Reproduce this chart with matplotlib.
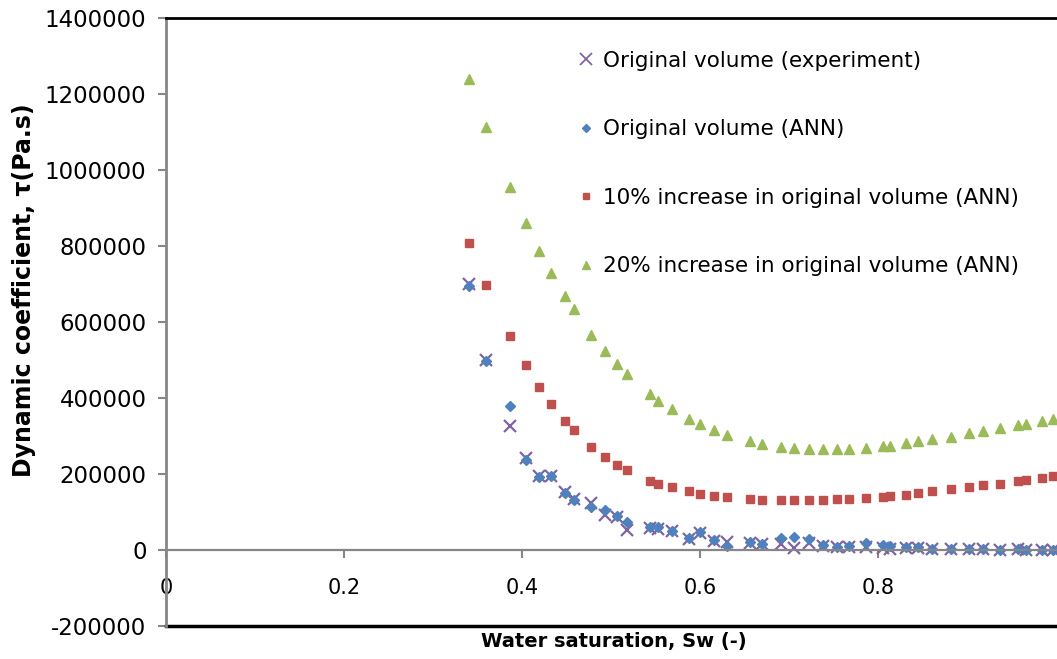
import matplotlib
matplotlib.use("Agg")
import matplotlib.pyplot as plt
from matplotlib.lines import Line2D

# water saturation values shared by every series
sw = [0.341, 0.360, 0.386, 0.404, 0.419, 0.433, 0.448, 0.458, 0.478, 0.493,
      0.507, 0.518, 0.544, 0.553, 0.568, 0.588, 0.600, 0.616, 0.630, 0.656,
      0.670, 0.691, 0.706, 0.723, 0.738, 0.754, 0.767, 0.787, 0.806, 0.814,
      0.832, 0.845, 0.861, 0.882, 0.902, 0.918, 0.937, 0.957, 0.966, 0.984,
      0.997]

# dynamic coefficient (Pa.s), thousands
tau_exp = [700, 500, 327, 243, 196, 196, 153, 133, 123, 92, 88, 53, 59, 54,
           50, 29, 46, 25, 22, 19, 15, 15, 6, 18, 11, 7, 7, 7, 4, 2, 5, 5, 3,
           3, 3, 3, 1, 2, 1, 1, 1]
tau_ann = [695, 497, 379, 237, 191, 195, 151, 132, 113, 105, 89, 75, 61, 61,
           50, 32, 48, 26, 11, 22, 17, 32, 35, 28, 13, 9, 11, 18, 13, 10, 8, 8,
           3, 3, 3, 3, 1, 2, 1, 1, 1]
tau_10 = [809, 698, 564, 486, 428, 383, 339, 316, 270, 246, 225, 211, 182,
          175, 166, 154, 148, 142, 139, 133, 132, 131, 131, 132, 132, 133, 134,
          138, 140, 141, 146, 150, 154, 160, 165, 170, 175, 182, 185, 190, 196]
tau_20 = [1240, 1113, 955, 861, 787, 730, 669, 635, 566, 525, 489, 463, 410,
          392, 371, 344, 331, 315, 303, 288, 279, 271, 269, 265, 265, 265, 265,
          269, 273, 275, 281, 286, 291, 298, 307, 313, 320, 329, 332, 340, 346]

labels = ["Original volume (experiment)", "Original volume (ANN)",
          "10% increase in original volume (ANN)",
          "20% increase in original volume (ANN)"]

xticks = [0, 0.2, 0.4, 0.6, 0.8]
yticks = list(range(-200000, 1400001, 200000))

PURPLE = "#8064A2"
BLUE = "#4F81BD"
RED = "#C0504D"
GREEN = "#9BBB59"
GREY = "#868686"

plt.rcParams["font.family"] = ["DejaVu Sans"]

W, H = 1057, 659
fig = plt.figure(figsize=(W / 100, H / 100), dpi=100)
ax = fig.add_axes([166 / W, 1 - 626 / H, 890 / W, 608 / H])


def k(vals):
    return [v * 1000 for v in vals]


ax.plot(sw, k(tau_20), linestyle="none", marker="^", ms=7, color=GREEN, mec=GREEN)
ax.plot(sw, k(tau_10), linestyle="none", marker="s", ms=6, color=RED, mec=RED)
ax.plot(sw, k(tau_exp), linestyle="none", marker="x", ms=9, mew=1.6, color=PURPLE)
ax.plot(sw, k(tau_ann), linestyle="none", marker="D", ms=5, color=BLUE, mec=BLUE)

ax.set_xlim(0, 1)
ax.set_ylim(-200000, 1400000)
ax.set_xticks(xticks)
ax.set_xticklabels([f"{t:g}" for t in xticks])
ax.set_yticks(yticks)
ax.set_yticklabels([str(t) for t in yticks])

# horizontal axis crosses at zero, plot area framed top and bottom
ax.spines["bottom"].set_position(("data", 0))
ax.spines["bottom"].set_color(GREY)
ax.spines["bottom"].set_linewidth(1.6)
ax.spines["left"].set_color(GREY)
ax.spines["left"].set_linewidth(2)
ax.spines["top"].set_color("black")
ax.spines["top"].set_linewidth(2)
ax.spines["right"].set_visible(False)
ax.plot([0, 1], [0, 0], transform=ax.transAxes, color="black", lw=2.5,
        clip_on=False)

ax.tick_params(axis="x", direction="out", length=6, width=1.5, color=GREY,
               pad=14, labelsize=15)
ax.tick_params(axis="y", direction="out", length=6, width=1.5, color=GREY,
               pad=8, labelsize=16.5)

fig.text(614 / W, 1 - 641 / H, "Water saturation, Sw (-)", ha="center",
         va="center", fontsize=14, fontweight="bold")
fig.text(24 / W, 1 - 290 / H, "Dynamic coefficient, \u03c4(Pa.s)", ha="center",
         va="center", rotation=90, fontsize=17, fontweight="bold")

handles = [
    Line2D([], [], linestyle="none", marker="x", ms=8, mew=1.3, color=PURPLE),
    Line2D([], [], linestyle="none", marker="D", ms=4, color=BLUE),
    Line2D([], [], linestyle="none", marker="s", ms=5, color=RED),
    Line2D([], [], linestyle="none", marker="^", ms=6, color=GREEN),
]
ax.legend(handles, labels, loc="upper left",
          bbox_to_anchor=(567 / W, 1 - 40 / H), bbox_transform=fig.transFigure,
          frameon=False, fontsize=15.5, borderpad=0, handlelength=0.8,
          handletextpad=0.35, labelspacing=2.25)

fig.savefig("out.png", dpi=100)
